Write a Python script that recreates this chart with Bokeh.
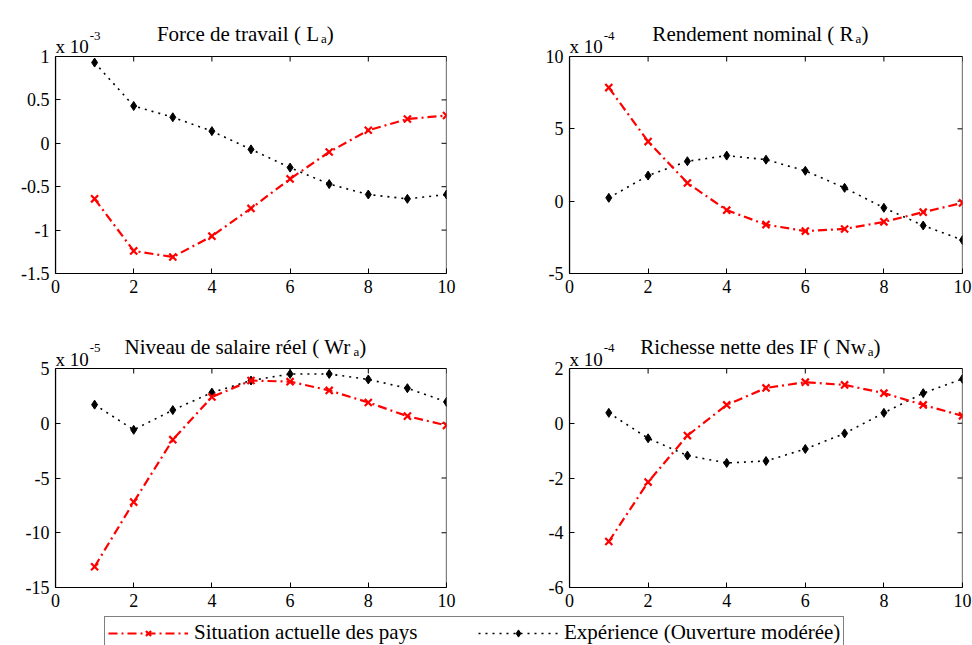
from bokeh.plotting import figure
from bokeh.models import Range1d, FixedTicker, Label, Legend, LegendItem, NumeralTickFormatter
from bokeh.layouts import column, row
from bokeh.embed import file_html
from bokeh.resources import INLINE

# ---------------- data ----------------
steps = [1, 2, 3, 4, 5, 6, 7, 8, 9, 10]
x_ticks = [0, 2, 4, 6, 8, 10]

# Force de travail (L_a), x 10^-3
la_actuel = [-0.64, -1.24, -1.31, -1.07, -0.75, -0.41, -0.10, 0.15, 0.28, 0.32]
la_exper = [0.93, 0.43, 0.30, 0.14, -0.07, -0.28, -0.47, -0.59, -0.64, -0.59]
la_ticks = [-1.5, -1, -0.5, 0, 0.5, 1]

# Rendement nominal (R_a), x 10^-4
ra_actuel = [7.85, 4.12, 1.26, -0.62, -1.62, -2.07, -1.92, -1.43, -0.76, -0.12]
ra_exper = [0.23, 1.77, 2.76, 3.15, 2.87, 2.10, 0.92, -0.46, -1.68, -2.69]
ra_ticks = [-5, 0, 5, 10]

# Niveau de salaire reel (Wr_a), x 10^-5
wr_actuel = [-13.1, -7.2, -1.5, 2.4, 3.9, 3.8, 3.0, 1.9, 0.65, -0.2]
wr_exper = [1.7, -0.6, 1.2, 2.8, 3.9, 4.5, 4.5, 4.0, 3.2, 1.95]
wr_ticks = [-15, -10, -5, 0, 5]

# Richesse nette des IF (Nw_a), x 10^-4
nw_actuel = [-4.32, -2.15, -0.45, 0.67, 1.29, 1.50, 1.40, 1.10, 0.67, 0.27]
nw_exper = [0.38, -0.55, -1.18, -1.45, -1.38, -0.94, -0.37, 0.38, 1.10, 1.62]
nw_ticks = [-6, -4, -2, 0, 2]

series_names = ["Situation actuelle des pays", "Expérience (Ouverture modérée)"]

FONT = "Liberation Serif"
RED = "#ff0000"

# Times / Liberation Serif advance widths (1/1000 em) for placing title pieces
TIMES = {" ": 250, "(": 333, ")": 333, "A": 722, "F": 556, "I": 333, "L": 611, "N": 722,
         "R": 667, "W": 944, "a": 444, "c": 444, "d": 500, "e": 444, "é": 444, "h": 500,
         "i": 278, "l": 278, "m": 778, "n": 500, "o": 500, "r": 333, "s": 389, "t": 278,
         "u": 500, "v": 500, "w": 722, "x": 500, "0": 500, "1": 500}


def tw(s, fs):
    return sum(TIMES.get(c, 500) for c in s) / 1000.0 * fs


def style_axis(ax, ticks):
    ax.ticker = FixedTicker(ticks=ticks)
    ax.bounds = (ticks[0], ticks[-1])
    ax.major_tick_in = 5
    ax.major_tick_out = 0
    ax.minor_tick_line_color = None
    ax.axis_line_color = "black"
    ax.axis_line_width = 1.2
    ax.major_tick_line_color = "black"
    ax.major_tick_line_width = 1
    ax.formatter = NumeralTickFormatter(format="0.[0]")
    ax.major_label_text_font = FONT
    ax.major_label_text_font_size = "18px"
    ax.major_label_text_color = "black"
    ax.major_label_standoff = 6


def panel(fw, fh, ext, left, right, bottom, yticks, actuel, exper, title_main, title_sub, expo,
          title_dy, sub_dy, expo_dy, sup_dy):
    ylo, yhi = yticks[0], yticks[-1]
    per_px = (yhi - ylo) / fh
    p = figure(frame_width=fw, frame_height=fh + ext,
               min_border_left=left, min_border_right=right,
               min_border_top=0, min_border_bottom=bottom,
               x_range=Range1d(x_ticks[0], x_ticks[-1]),
               y_range=Range1d(ylo, yhi + ext * per_px),
               output_backend="svg", toolbar_location=None)
    p.grid.grid_line_color = None
    p.outline_line_color = None
    p.background_fill_color = "white"
    p.border_fill_color = "white"
    style_axis(p.xaxis[0], x_ticks)
    style_axis(p.yaxis[0], yticks)

    # box around the plotting area, with inward ticks on top and right
    p.quad(left=x_ticks[0], right=x_ticks[-1], bottom=ylo, top=yhi,
           fill_color=None, line_color="black", line_width=1.2)
    xr_px = (x_ticks[-1] - x_ticks[0]) / fw
    p.segment(x0=x_ticks, y0=[yhi] * len(x_ticks), x1=x_ticks,
              y1=[yhi - 5 * per_px] * len(x_ticks), line_color="black", line_width=1)
    p.segment(x0=[x_ticks[-1]] * len(yticks), y0=yticks,
              x1=[x_ticks[-1] - 5 * xr_px] * len(yticks), y1=yticks,
              line_color="black", line_width=1)

    p.line(steps, exper, line_color="black", line_width=1.6, line_dash="2 5")
    p.scatter(steps, exper, marker="diamond", size=9, fill_color="black", line_color="black")
    p.line(steps, actuel, line_color=RED, line_width=2.2, line_dash="9 4 2 4")
    p.scatter(steps, actuel, marker="x", size=10, line_color=RED, line_width=2.2)

    # exponent "x 10^-n"
    p.add_layout(Label(x=0, y=fh + expo_dy, x_units="screen", y_units="screen", text="x 10",
                       text_font=FONT, text_font_size="19px", text_color="black",
                       text_align="left", text_baseline="alphabetic"))
    p.add_layout(Label(x=tw("x 10", 19) + 1, y=fh + sup_dy, x_units="screen", y_units="screen",
                       text=expo, text_font=FONT, text_font_size="13px", text_color="black",
                       text_align="left", text_baseline="alphabetic"))
    # title with subscript
    fs, fss = 21, 13
    total = tw(title_main, fs) + tw(title_sub, fss) + tw(" )", fs) + 2
    x0 = fw / 2.0 - 3 - total / 2.0
    p.add_layout(Label(x=x0, y=fh + title_dy, x_units="screen", y_units="screen", text=title_main,
                       text_font=FONT, text_font_size=f"{fs}px", text_color="black",
                       text_align="left", text_baseline="alphabetic"))
    xs = x0 + tw(title_main, fs) + 2
    p.add_layout(Label(x=xs, y=fh + sub_dy, x_units="screen", y_units="screen", text=title_sub,
                       text_font=FONT, text_font_size=f"{fss}px", text_color="black",
                       text_align="left", text_baseline="alphabetic"))
    xc = xs + tw(title_sub, fss)
    p.add_layout(Label(x=xc, y=fh + title_dy, x_units="screen", y_units="screen", text=" )",
                       text_font=FONT, text_font_size=f"{fs}px", text_color="black",
                       text_align="left", text_baseline="alphabetic"))
    return p


f1 = panel(391, 217, 56, 55, 20, 30, la_ticks, la_actuel, la_exper,
           "Force de travail ( L", "a", "-3", 23, 18, 10, 21)
f2 = panel(393, 217, 56, 103, 10, 30, ra_ticks, ra_actuel, ra_exper,
           "Rendement nominal ( R", "a", "-4", 23, 18, 10, 21)
f3 = panel(391, 219, 65, 55, 20, 28, wr_ticks, wr_actuel, wr_exper,
           "Niveau de salaire réel ( Wr", "a", "-5", 22, 17, 9, 21)
f4 = panel(393, 219, 65, 103, 10, 28, nw_ticks, nw_actuel, nw_exper,
           "Richesse nette des IF ( Nw", "a", "-4", 22, 17, 9, 21)

# legend strip: the series lie outside its (empty) range, only the legend shows
lg = figure(width=972, height=30, min_border_left=104, min_border_top=1,
            min_border_right=0, min_border_bottom=0,
            x_axis_location=None, y_axis_location=None,
            x_range=Range1d(-20, -19), y_range=Range1d(-20, -19),
            output_backend="svg", toolbar_location=None)
lg.grid.grid_line_color = None
lg.outline_line_color = None
r1l = lg.line(steps, nw_actuel, line_color=RED, line_width=2.2, line_dash="9 4 2 4")
r1s = lg.scatter(steps, nw_actuel, marker="x", size=10, line_color=RED, line_width=2.2)
r2l = lg.line(steps, nw_exper, line_color="black", line_width=1.6, line_dash="2 5")
r2s = lg.scatter(steps, nw_exper, marker="diamond", size=9, fill_color="black", line_color="black")
legend = Legend(items=[LegendItem(label=series_names[0], renderers=[r1l, r1s]),
                       LegendItem(label=series_names[1], renderers=[r2l, r2s])],
                location="top_left", orientation="horizontal", margin=0, padding=3,
                spacing=33, label_standoff=6, glyph_width=80, glyph_height=18,
                label_height=18, label_width=251,
                label_text_font=FONT, label_text_font_size="21px", label_text_color="black",
                border_line_color="black", border_line_width=1.2,
                background_fill_color="white", background_fill_alpha=1)
lg.add_layout(legend)

page = column(row(f1, f2), row(f3, f4), lg)
open("out.html", "w").write(file_html(page, INLINE))
